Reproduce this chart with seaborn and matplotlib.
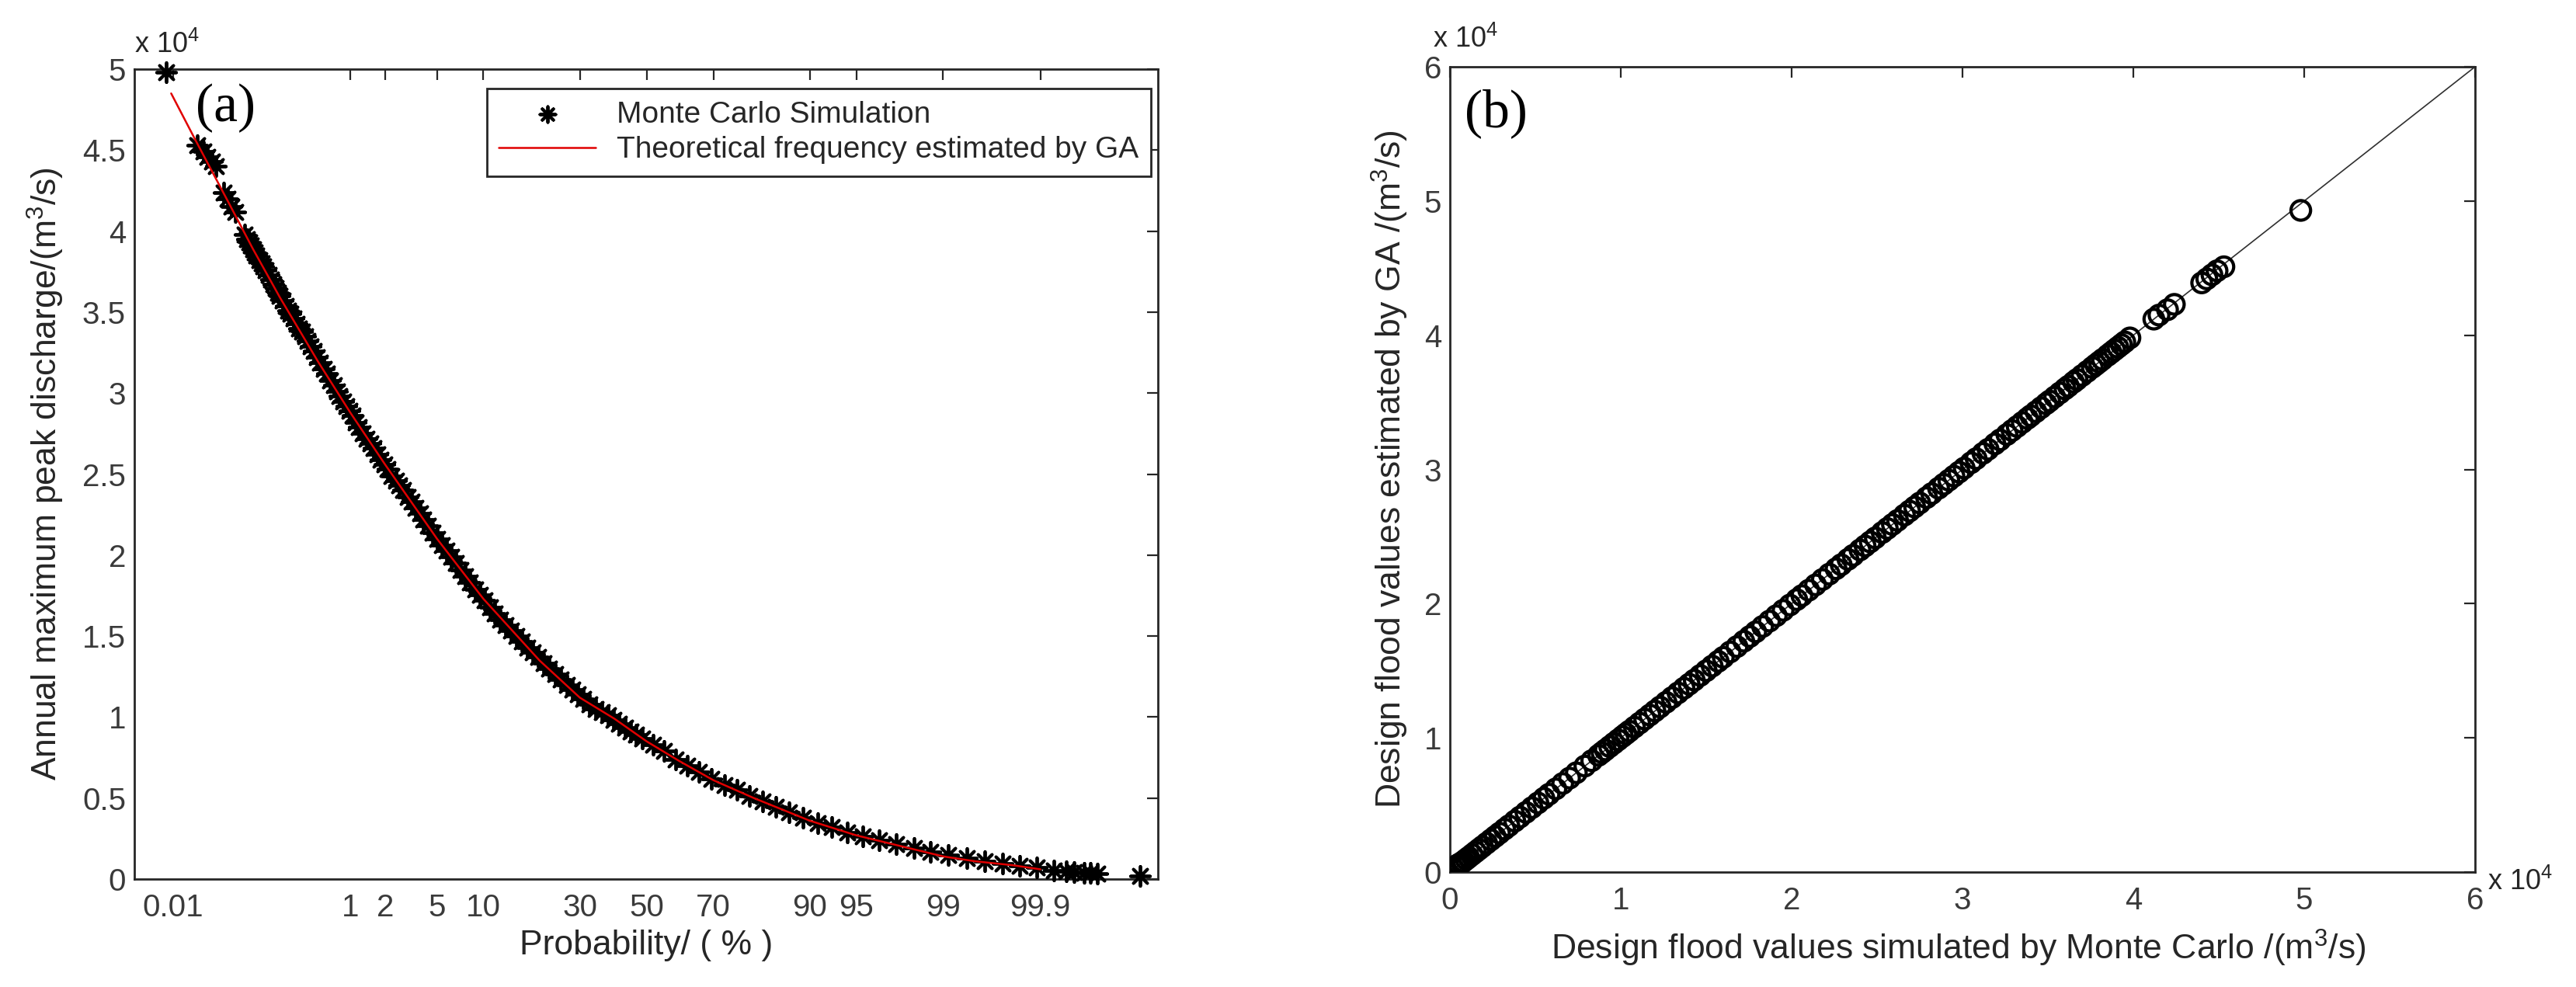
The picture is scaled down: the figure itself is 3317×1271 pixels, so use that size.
import numpy as np
import matplotlib
matplotlib.use("Agg")
import matplotlib.pyplot as plt
import seaborn as sns
from statistics import NormalDist

# Monte Carlo samples: exceedance probability (%) and discharge (m3/s)
mc_prob = [0.0082, 0.021, 0.025, 0.028, 0.032, 0.036, 0.045, 0.050, 0.056, 0.062,
           0.080, 0.085, 0.090, 0.095, 0.10, 0.105, 0.11, 0.118, 0.125, 0.132,
           0.14, 0.15, 0.16, 0.17, 0.18, 0.19, 0.20, 0.215, 0.23, 0.245,
           0.26, 0.28, 0.30, 0.32, 0.34, 0.365, 0.39, 0.42, 0.45, 0.485,
           0.52, 0.56, 0.60, 0.65, 0.70, 0.75, 0.80, 0.86, 0.92, 0.98,
           1.05, 1.12, 1.2, 1.3, 1.4, 1.5, 1.6, 1.72, 1.85, 1.97,
           2.1, 2.27, 2.45, 2.62, 2.8, 3.02, 3.25, 3.5, 3.75, 4.0,
           4.3, 4.65, 5.0, 5.4, 5.8, 6.25, 6.7, 7.2, 7.7, 8.3,
           8.9, 9.5, 10.2, 10.9, 11.7, 12.5, 13.4, 14.3, 15.3, 16.3,
           17.4, 18.5, 19.7, 20.9, 22.2, 23.6, 25.0, 26.5, 28.0, 29.5,
           31.0, 32.7, 34.5, 36.2, 38.0, 39.7, 41.5, 43.2, 45.0, 46.7,
           48.5, 52.0, 55.5, 59.0, 62.5, 66.0, 69.5, 73.0, 76.0, 79.0,
           81.8, 84.4, 86.8, 89.0, 91.0, 92.7, 94.2, 95.5, 96.6, 97.5,
           98.2, 98.7, 99.1, 99.4, 99.6, 99.74, 99.83, 99.89, 99.93, 99.95,
           99.96, 99.97, 99.975, 99.98, 99.9946]
mc_value = [49800, 45300, 44900, 44600, 44300, 44000, 42400, 42000, 41500, 41200,
            39800, 39500, 39300, 39100, 38900, 38700, 38500, 38200, 38000, 37800,
            37600, 37300, 37000, 36700, 36500, 36200, 36000, 35700, 35400, 35100,
            34900, 34600, 34300, 34000, 33800, 33500, 33200, 32900, 32600, 32200,
            31900, 31500, 31200, 30800, 30500, 30100, 29800, 29500, 29200, 28900,
            28600, 28200, 27900, 27500, 27200, 26900, 26600, 26200, 25900, 25600,
            25300, 24900, 24600, 24300, 24000, 23600, 23300, 22900, 22600, 22200,
            21800, 21400, 21000, 20600, 20300, 19900, 19500, 19100, 18700, 18300,
            17900, 17550, 17200, 16800, 16400, 16000, 15700, 15350, 15000, 14650,
            14300, 14000, 13700, 13350, 13000, 12650, 12300, 12000, 11700, 11400,
            11100, 10800, 10500, 10300, 10100, 9850, 9600, 9350, 9100, 8900,
            8700, 8300, 7900, 7400, 7000, 6600, 6200, 5800, 5500, 5150,
            4800, 4450, 4100, 3800, 3450, 3200, 2900, 2650, 2400, 2150,
            1900, 1700, 1500, 1300, 1100, 950, 800, 700, 550, 500,
            450, 400, 400, 350, 200]
# GA estimate at the same probabilities
ga_value = [49300, 45100, 44800, 44500, 44200, 43900, 42300, 41900, 41500, 41200,
            39800, 39500, 39300, 39100, 38900, 38700, 38500, 38200, 38000, 37800,
            37600, 37300, 37000, 36700, 36500, 36200, 36000, 35700, 35400, 35100,
            34900, 34600, 34300, 34000, 33800, 33500, 33200, 32900, 32600, 32200,
            31900, 31500, 31200, 30800, 30500, 30100, 29800, 29500, 29200, 28900,
            28600, 28200, 27900, 27500, 27200, 26900, 26600, 26200, 25900, 25600,
            25300, 24900, 24600, 24300, 24000, 23600, 23300, 22900, 22600, 22200,
            21800, 21400, 21000, 20600, 20300, 19900, 19500, 19100, 18700, 18300,
            17900, 17550, 17200, 16800, 16400, 16000, 15700, 15350, 15000, 14650,
            14300, 14000, 13700, 13350, 13000, 12650, 12300, 12000, 11700, 11400,
            11100, 10800, 10500, 10300, 10100, 9850, 9600, 9350, 9100, 8900,
            8700, 8300, 7900, 7400, 7000, 6600, 6200, 5800, 5500, 5150,
            4800, 4450, 4100, 3800, 3450, 3200, 2900, 2650, 2400, 2150,
            1900, 1700, 1500, 1300, 1100, 950, 800, 700, 600, 550,
            500, 450, 450, 400, 250]

# theoretical frequency curve (GA)
line_prob = [0.0095, 0.02, 0.05, 0.1, 0.2, 0.5, 1, 2, 5, 10, 20, 30, 40, 50,
             60, 70, 80, 90, 95, 97, 99, 99.5, 99.8, 99.9]
line_value = [48500, 45600, 41900, 38900, 35900, 31900, 28800, 25600, 21000, 17300,
              13500, 11200, 9900, 8500, 7300, 6100, 5000, 3600, 2700, 2250,
              1400, 1100, 850, 600]

prob_ticks = [0.01, 1, 2, 5, 10, 30, 50, 70, 90, 95, 99, 99.9]
prob_labels = ["0.01", "1", "2", "5", "10", "30", "50", "70", "90", "95", "99", "99.9"]
q_ticks_a = [0, 5000, 10000, 15000, 20000, 25000, 30000, 35000, 40000, 45000, 50000]
q_labels_a = ["0", "0.5", "1", "1.5", "2", "2.5", "3", "3.5", "4", "4.5", "5"]
q_ticks_b = [0, 10000, 20000, 30000, 40000, 50000, 60000]
q_labels_b = ["0", "1", "2", "3", "4", "5", "6"]
diag = [0, 60000]

_nd = NormalDist()
_ppf = np.vectorize(_nd.inv_cdf, otypes=[float])
_cdf = np.vectorize(_nd.cdf, otypes=[float])


def prob_fwd(p):
    return _ppf(np.clip(np.asarray(p, dtype=float) / 100.0, 1e-9, 1 - 1e-9))


def prob_inv(z):
    return _cdf(np.asarray(z, dtype=float)) * 100.0


sns.set_theme(style="white")
plt.rcParams["font.family"] = ["Liberation Sans", "DejaVu Sans"]
plt.rcParams["mathtext.fontset"] = "dejavusans"
ink = "#262626"

fig = plt.figure(figsize=(33.17, 12.71), dpi=100)
ax1 = fig.add_axes([0.05216, 0.10936, 0.39735, 0.82061])
ax2 = fig.add_axes([0.56286, 0.11644, 0.39795, 0.81589])

# ---- (a) frequency curve
ax1.set_xscale("function", functions=(prob_fwd, prob_inv))
sns.scatterplot(x=mc_prob, y=mc_value, marker=(8, 2, 0), s=330, color="black",
                linewidth=2.8, ax=ax1, label="Monte Carlo Simulation",
                clip_on=False, zorder=3)
sns.lineplot(x=line_prob, y=line_value, color="#e00000", linewidth=1.8, sort=False,
             estimator=None, ax=ax1, label="Theoretical frequency estimated by GA",
             zorder=4)
ax1.set_xlim(0.0029, 99.997)
ax1.set_ylim(0, 50000)
ax1.set_xticks(prob_ticks)
ax1.set_xticklabels(prob_labels)
ax1.xaxis.set_minor_locator(matplotlib.ticker.NullLocator())
ax1.set_yticks(q_ticks_a)
ax1.set_yticklabels(q_labels_a)
ax1.set_xlabel("Probability/ ( % )", fontsize=32, color=ink)
ax1.set_ylabel(r"Annual maximum peak discharge/(m$^{\mathregular{3}}$/s)",
               fontsize=32, color=ink)
ax1.xaxis.set_label_coords(0.5, -0.062)
ax1.yaxis.set_label_coords(-0.067, 0.5)
ax1.text(0.0, 1.012, r"x 10$^{\mathregular{4}}$", transform=ax1.transAxes,
         fontsize=26, color=ink, ha="left", va="bottom")
ax1.text(0.0895, 0.952, "(a)", transform=ax1.transAxes, fontsize=50,
         family="Liberation Serif", color="black", ha="center", va="center")
leg = ax1.legend(loc="upper right", bbox_to_anchor=(0.993, 0.976), fontsize=28,
                 frameon=True, fancybox=False, framealpha=1, borderpad=0.4,
                 labelspacing=0.25, handlelength=3.2, handletextpad=0.7,
                 borderaxespad=0, scatterpoints=1, markerscale=0.8)
leg.get_frame().set_edgecolor(ink)
leg.get_frame().set_linewidth(2)
for t in leg.get_texts():
    t.set_color(ink)

# ---- (b) comparison
sns.lineplot(x=diag, y=diag, color="#303030", linewidth=1.2, ax=ax2, zorder=2)
sns.scatterplot(x=mc_value, y=ga_value, marker="o", s=330, color="black",
                facecolor="none", edgecolor="black", linewidth=3.0, ax=ax2,
                legend=False, zorder=3)
ax2.set_xlim(0, 60000)
ax2.set_ylim(0, 60000)
ax2.set_xticks(q_ticks_b)
ax2.set_xticklabels(q_labels_b)
ax2.set_yticks(q_ticks_b)
ax2.set_yticklabels(q_labels_b)
ax2.set_xlabel(r"Design flood values simulated by Monte Carlo /(m$^{\mathregular{3}}$/s)",
               fontsize=32, color=ink)
ax2.set_ylabel(r"Design flood values estimated by GA /(m$^{\mathregular{3}}$/s)",
               fontsize=32, color=ink)
ax2.xaxis.set_label_coords(0.496, -0.069)
ax2.yaxis.set_label_coords(-0.039, 0.5)
ax2.text(-0.017, 1.016, r"x 10$^{\mathregular{4}}$", transform=ax2.transAxes,
         fontsize=26, color=ink, ha="left", va="bottom")
ax2.text(1.012, -0.012, r"x 10$^{\mathregular{4}}$", transform=ax2.transAxes,
         fontsize=26, color=ink, ha="left", va="center")
ax2.text(0.045, 0.942, "(b)", transform=ax2.transAxes, fontsize=50,
         family="Liberation Serif", color="black", ha="center", va="center")

for ax in (ax1, ax2):
    for sp in ax.spines.values():
        sp.set_visible(True)
        sp.set_color(ink)
        sp.set_linewidth(2)
    ax.tick_params(direction="in", length=10, width=1.6, color=ink,
                   top=True, right=True, labelsize=29, labelcolor="#3a3a3a")
    ax.tick_params(axis="x", pad=13)
    ax.tick_params(axis="y", pad=8)
    ax.grid(False)

fig.savefig("out.png", dpi=100, facecolor="white")
